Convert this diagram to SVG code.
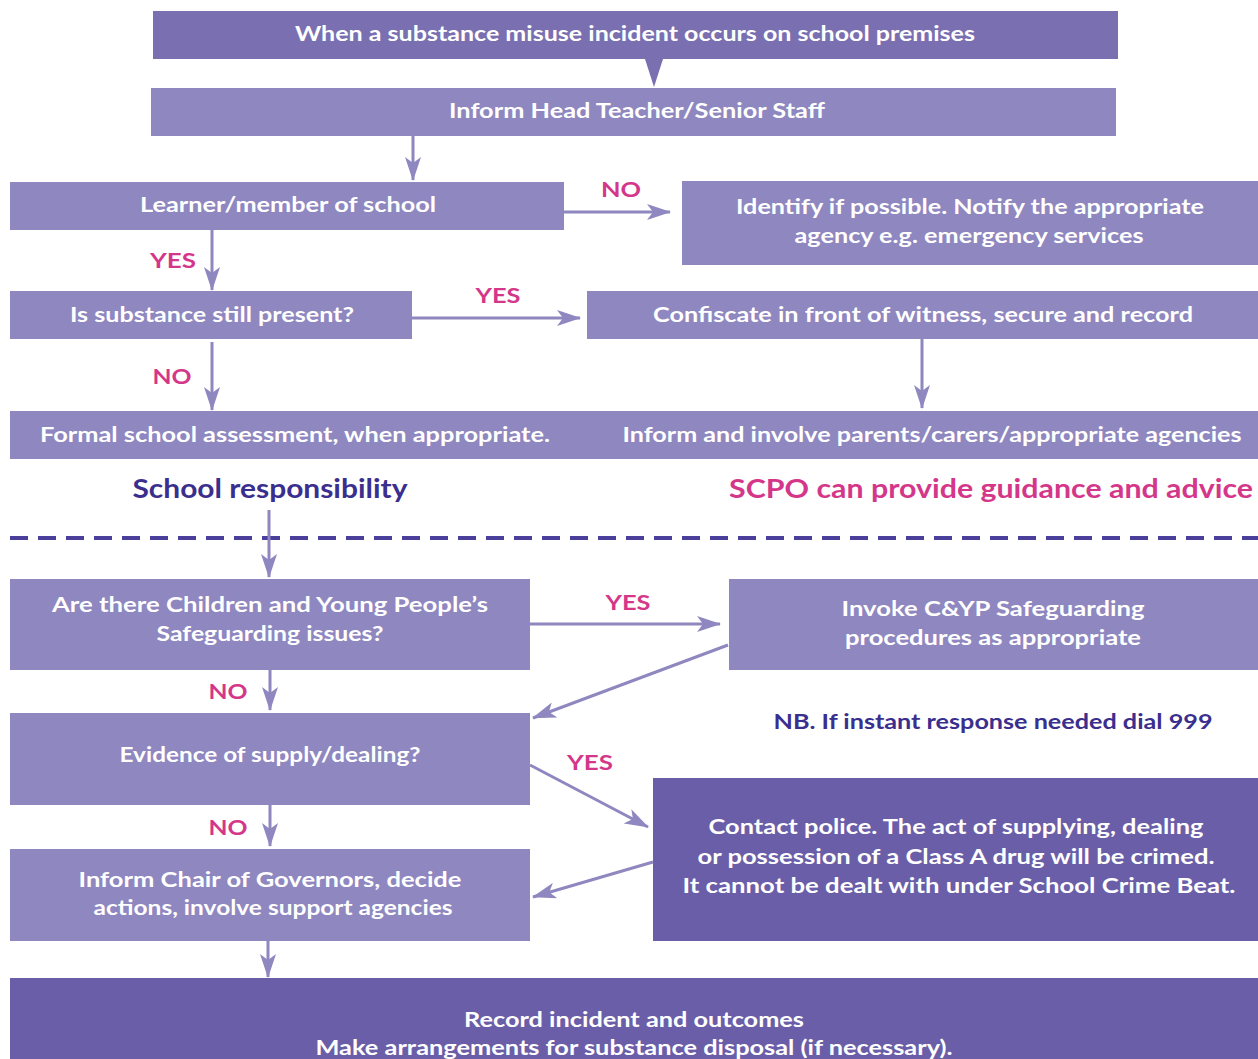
<svg xmlns="http://www.w3.org/2000/svg" width="1258" height="1059" viewBox="0 0 1258 1059">
<style>
.t{font-family:Lato,"Open Sans","Liberation Sans",sans-serif;font-weight:bold;font-size:20px;fill:#ffffff;text-anchor:middle}
.lab{font-family:Lato,"Open Sans","Liberation Sans",sans-serif;font-weight:bold;font-size:20px;fill:#D4378A;text-anchor:middle}
.big{font-family:Lato,"Open Sans","Liberation Sans",sans-serif;font-weight:bold;font-size:26px;text-anchor:middle}
.nb{font-family:Lato,"Open Sans","Liberation Sans",sans-serif;font-weight:bold;font-size:20px;fill:#3A2F8E;text-anchor:middle}
.lt{fill:#8F87BF}
.top{fill:#7A70B1}
.dk{fill:#6A5EA8}
.c{stroke:#8F87BF;stroke-width:3;fill:none;marker-end:url(#ah)}
</style>
<defs>
<marker id="ah" viewBox="0 0 24 16" refX="23" refY="8" markerWidth="24" markerHeight="16" markerUnits="userSpaceOnUse" orient="auto">
<path d="M0,0 L24,8 L0,16 L6,8 z" fill="#8F87BF"/>
</marker>
</defs>
<rect width="1258" height="1059" fill="#ffffff"/>

<g id="n1"><rect class="top" x="153" y="11" width="965" height="48"/>
<text class="t" x="635" y="41" textLength="680" lengthAdjust="spacingAndGlyphs">When a substance misuse incident occurs on school premises</text></g>

<g id="n2"><rect class="lt" x="151" y="88" width="965" height="48"/>
<text class="t" x="637" y="118" textLength="376" lengthAdjust="spacingAndGlyphs">Inform Head Teacher/Senior Staff</text></g>

<g id="n3"><rect class="lt" x="10" y="182" width="554" height="48"/>
<text class="t" x="288" y="212" textLength="296" lengthAdjust="spacingAndGlyphs">Learner/member of school</text></g>

<g id="n4"><rect class="lt" x="682" y="181" width="576" height="84"/>
<text class="t" x="970" y="214" textLength="468" lengthAdjust="spacingAndGlyphs">Identify if possible. Notify the appropriate</text>
<text class="t" x="969" y="243" textLength="349" lengthAdjust="spacingAndGlyphs">agency e.g. emergency services</text></g>

<g id="n5"><rect class="lt" x="10" y="291" width="402" height="48"/>
<text class="t" x="212" y="322" textLength="284" lengthAdjust="spacingAndGlyphs">Is substance still present?</text></g>

<g id="n6"><rect class="lt" x="587" y="291" width="671" height="48"/>
<text class="t" x="923" y="322" textLength="540" lengthAdjust="spacingAndGlyphs">Confiscate in front of witness, secure and record</text></g>

<g id="n7"><rect class="lt" x="10" y="411" width="578" height="48"/>
<text class="t" x="295" y="442" textLength="510" lengthAdjust="spacingAndGlyphs">Formal school assessment, when appropriate.</text></g>

<g id="n8"><rect class="lt" x="587" y="411" width="671" height="48"/>
<text class="t" x="932" y="442" textLength="619" lengthAdjust="spacingAndGlyphs">Inform and involve parents/carers/appropriate agencies</text></g>

<g id="n9"><text class="big" x="270" y="498" fill="#3A2F8E" textLength="275" lengthAdjust="spacingAndGlyphs">School responsibility</text></g>
<g id="n10"><text class="big" x="991" y="498" fill="#D4378A" textLength="524" lengthAdjust="spacingAndGlyphs">SCPO can provide guidance and advice</text></g>

<g id="divider"><line x1="10" y1="538" x2="1258" y2="538" stroke="#4B3F9C" stroke-width="4" stroke-dasharray="18 10"/></g>

<g id="n11"><rect class="lt" x="10" y="579" width="520" height="91"/>
<text class="t" x="270" y="612" textLength="436" lengthAdjust="spacingAndGlyphs">Are there Children and Young People’s</text>
<text class="t" x="270" y="641" textLength="227" lengthAdjust="spacingAndGlyphs">Safeguarding issues?</text></g>

<g id="n12"><rect class="lt" x="729" y="579" width="529" height="91"/>
<text class="t" x="993" y="616" textLength="303" lengthAdjust="spacingAndGlyphs">Invoke C&amp;YP Safeguarding</text>
<text class="t" x="993" y="645" textLength="296" lengthAdjust="spacingAndGlyphs">procedures as appropriate</text></g>

<g id="n13"><rect class="lt" x="10" y="713" width="520" height="92"/>
<text class="t" x="270" y="762" textLength="301" lengthAdjust="spacingAndGlyphs">Evidence of supply/dealing?</text></g>

<g id="n14"><text class="nb" x="993" y="729" textLength="439" lengthAdjust="spacingAndGlyphs">NB. If instant response needed dial 999</text></g>

<g id="n15"><rect class="dk" x="653" y="778" width="605" height="163"/>
<text class="t" x="956" y="834" textLength="495" lengthAdjust="spacingAndGlyphs">Contact police. The act of supplying, dealing</text>
<text class="t" x="956" y="864" textLength="517" lengthAdjust="spacingAndGlyphs">or possession of a Class A drug will be crimed.</text>
<text class="t" x="959" y="893" textLength="553" lengthAdjust="spacingAndGlyphs">It cannot be dealt with under School Crime Beat.</text></g>

<g id="n16"><rect class="lt" x="10" y="849" width="520" height="92"/>
<text class="t" x="270" y="887" textLength="383" lengthAdjust="spacingAndGlyphs">Inform Chair of Governors, decide</text>
<text class="t" x="273" y="915" textLength="359" lengthAdjust="spacingAndGlyphs">actions, involve support agencies</text></g>

<g id="n17"><rect class="dk" x="10" y="978" width="1248" height="90"/>
<text class="t" x="634" y="1027" textLength="340" lengthAdjust="spacingAndGlyphs">Record incident and outcomes</text>
<text class="t" x="634" y="1055" textLength="637" lengthAdjust="spacingAndGlyphs">Make arrangements for substance disposal (if necessary).</text></g>

<g id="connectors">
<polygon points="645,59 663,59 654,87" fill="#7A70B1"/>
<line class="c" x1="413" y1="136" x2="413" y2="180"/>
<line class="c" x1="564" y1="212" x2="670" y2="212"/>
<line class="c" x1="212" y1="230" x2="212" y2="290"/>
<line class="c" x1="412" y1="318" x2="580" y2="318"/>
<line class="c" x1="212" y1="342" x2="212" y2="410"/>
<line class="c" x1="922" y1="339" x2="922" y2="408"/>
<line class="c" x1="269" y1="510" x2="269" y2="577"/>
<line class="c" x1="530" y1="624" x2="720" y2="624"/>
<line class="c" x1="728" y1="645" x2="533" y2="718"/>
<line class="c" x1="270" y1="670" x2="270" y2="710"/>
<line class="c" x1="530" y1="765" x2="648" y2="827"/>
<line class="c" x1="653" y1="862" x2="533" y2="897"/>
<line class="c" x1="270" y1="805" x2="270" y2="846"/>
<line class="c" x1="268" y1="941" x2="268" y2="977"/>
<text class="lab" x="621" y="197" textLength="40" lengthAdjust="spacingAndGlyphs">NO</text>
<text class="lab" x="173" y="268" textLength="46" lengthAdjust="spacingAndGlyphs">YES</text>
<text class="lab" x="498" y="303" textLength="45" lengthAdjust="spacingAndGlyphs">YES</text>
<text class="lab" x="172" y="384" textLength="39" lengthAdjust="spacingAndGlyphs">NO</text>
<text class="lab" x="628" y="610" textLength="45" lengthAdjust="spacingAndGlyphs">YES</text>
<text class="lab" x="228" y="699" textLength="39" lengthAdjust="spacingAndGlyphs">NO</text>
<text class="lab" x="590" y="770" textLength="46" lengthAdjust="spacingAndGlyphs">YES</text>
<text class="lab" x="228" y="835" textLength="39" lengthAdjust="spacingAndGlyphs">NO</text>
</g>
</svg>
